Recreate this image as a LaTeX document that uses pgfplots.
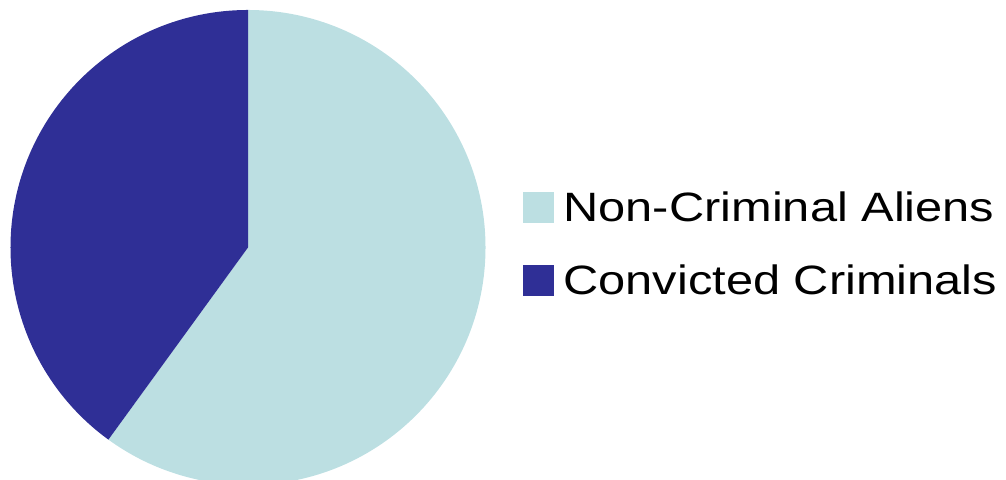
\documentclass[border=0pt]{standalone}
\usepackage{pgfplots}
\pgfplotsset{compat=1.18}
\usepackage{pgfplotstable}
\usepackage{fontspec}
\setmainfont{Liberation Sans}
\newfontfamily\legfont[FakeStretch=1.19]{Liberation Sans}

\definecolor{lightslice}{RGB}{188,223,226}
\definecolor{darkslice}{RGB}{47,47,150}

% shares in percent
\pgfplotstableread{
group share
NonCriminal 60
Convicted 40
}\piedata

\begin{document}
\begin{tikzpicture}
\pgfplotstablegetelem{0}{share}\of\piedata
\pgfmathsetmacro\endA{90-3.6*\pgfplotsretval}
\begin{axis}[
    x=1bp, y=1bp,
    xmin=0, xmax=1006, ymin=-480, ymax=0,
    hide axis,
    clip=true,
    legend style={draw=none, fill=none, inner sep=0pt, outer sep=0pt,
      at={(axis cs:523,-243.5)}, anchor=west,
      font=\legfont\fontsize{41bp}{45bp}\selectfont,
      row sep=43bp, column sep=10bp,
      nodes={inner sep=0pt, text height=29bp, text depth=0pt}},
    legend cell align=left,
    legend image code/.code={\fill[#1] (0bp,-15bp) rectangle (30bp,15bp);},
  ]
  \addlegendimage{lightslice}
  \addlegendentry{Non-Criminal Aliens}
  \addlegendimage{darkslice}
  \addlegendentry{Convicted Criminals}
  % light slice clockwise from 12 o'clock, dark slice fills the rest
  \fill[lightslice] (axis cs:248,-247.5) -- ++(90:237.5bp)
    arc[start angle=90, end angle=\endA, radius=237.5bp] -- cycle;
  \fill[darkslice] (axis cs:248,-247.5) -- ++(90:237.5bp)
    arc[start angle=90, end angle=\endA+360, radius=237.5bp] -- cycle;
\end{axis}
\pgfresetboundingbox
\path (current axis.south west) rectangle (current axis.north east);
\end{tikzpicture}
\end{document}
